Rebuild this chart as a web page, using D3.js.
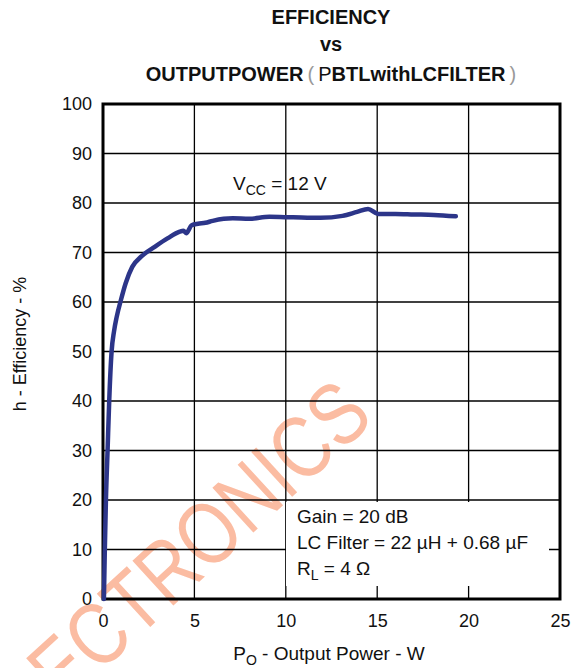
<!DOCTYPE html>
<html>
<head>
<meta charset="utf-8">
<script src="https://cdn.jsdelivr.net/npm/d3@7"></script>
<style>
  body { margin: 0; background: #fff; }
  svg { display: block; font-family: "Liberation Sans", Arial, sans-serif; }
</style>
</head>
<body>
<svg id="chart" width="578" height="668"></svg>
<script>
// values
const outputPower = [0.05, 0.1, 0.16, 0.25, 0.34, 0.47, 0.6, 0.75, 0.98, 1.24, 1.6, 2.1, 2.85, 3.55, 4.2, 4.4, 4.55, 4.85, 5.2, 5.6, 6.0, 6.6, 7.1, 8.0, 9.1, 10.4, 11.9, 13.1, 13.9, 14.5, 15.05, 16.0, 17.0, 18.1, 19.3];
const efficiency  = [0, 10, 20, 30, 40, 50, 54, 57, 60.4, 63.8, 67.1, 69.2, 71.2, 72.9, 74.2, 74.4, 73.9, 75.5, 75.8, 76.0, 76.4, 76.8, 76.9, 76.8, 77.2, 77.1, 77.0, 77.4, 78.2, 78.8, 77.8, 77.8, 77.7, 77.6, 77.3];
const xTicks = [0, 5, 10, 15, 20, 25];
const yTicks = [0, 10, 20, 30, 40, 50, 60, 70, 80, 90, 100];
const notes = ["Gain = 20 dB", "LC Filter = 22 \u00b5H + 0.68 \u00b5F"];

const svg = d3.select('#chart');
const x = d3.scaleLinear().domain([0, 25]).range([103, 560]);
const y = d3.scaleLinear().domain([0, 100]).range([599, 104]);

// title
const title = svg.append('g').attr('font-weight', 'bold').attr('font-size', 20)
  .attr('text-anchor', 'middle').attr('fill', '#111');
title.append('text').attr('x', 331).attr('y', 24).text('EFFICIENCY');
title.append('text').attr('x', 331).attr('y', 51).text('vs');
const t3 = title.append('text').attr('x', 331).attr('y', 81);
t3.append('tspan').text('OUTPUTPOWER');
t3.append('tspan').attr('font-weight', 'normal').attr('fill', '#999').text('\u2009(\u2009');
t3.append('tspan').attr('font-weight', 'normal').text('P');
t3.append('tspan').text('BTLwithLCFILTER');
t3.append('tspan').attr('font-weight', 'normal').attr('fill', '#999').text('\u2009)');

// watermark
svg.append('text')
  .attr('transform', 'translate(376,420) rotate(-42.5) scale(0.82,1)')
  .attr('text-anchor', 'end')
  .attr('font-size', 88)
  .attr('fill', '#fbbca2')
  .text('ELECTRONICS');

// grid
const grid = svg.append('g').attr('stroke', '#000').attr('stroke-width', 1.3);
grid.selectAll('.vx').data(xTicks.slice(1, -1)).enter().append('line')
  .attr('x1', d => x(d)).attr('x2', d => x(d))
  .attr('y1', y(0)).attr('y2', y(100));
grid.selectAll('.hy').data(yTicks.slice(1, -1)).enter().append('line')
  .attr('x1', x(0)).attr('x2', x(25))
  .attr('y1', d => y(d)).attr('y2', d => y(d));

// annotation box covers the grid
svg.append('rect').attr('x', 286).attr('y', 502).attr('width', 263).attr('height', 84).attr('fill', '#fff');
const ann = svg.append('g').attr('font-size', 19).attr('fill', '#111');
ann.selectAll('text.n').data(notes).enter().append('text')
  .attr('x', 297).attr('y', (d, i) => 523 + i * 26).text(d => d);
const rl = ann.append('text').attr('x', 297).attr('y', 575);
rl.append('tspan').text('R');
rl.append('tspan').attr('font-size', 14).attr('dy', 5).text('L');
rl.append('tspan').attr('dy', -5).text(' = 4 \u03a9');

// frame
svg.append('rect')
  .attr('x', x(0)).attr('y', y(100))
  .attr('width', x(25) - x(0)).attr('height', y(0) - y(100))
  .attr('fill', 'none').attr('stroke', '#000').attr('stroke-width', 3);

// axes labels
const xAxis = d3.axisBottom(x).tickValues(xTicks).tickSize(0).tickPadding(15);
svg.append('g').attr('transform', `translate(0,${y(0)})`).call(xAxis)
  .call(g => g.select('.domain').remove())
  .selectAll('text').attr('font-size', 18).attr('fill', '#111')
  .attr('font-family', '"Liberation Sans", Arial, sans-serif');
const yAxis = d3.axisLeft(y).tickValues(yTicks).tickSize(0).tickPadding(11);
svg.append('g').attr('transform', `translate(${x(0)},0)`).call(yAxis)
  .call(g => g.select('.domain').remove())
  .selectAll('text').attr('font-size', 18).attr('fill', '#111')
  .attr('font-family', '"Liberation Sans", Arial, sans-serif');

const xt = svg.append('text').attr('x', 329).attr('y', 660).attr('text-anchor', 'middle')
  .attr('font-size', 19).attr('fill', '#111');
xt.append('tspan').text('P');
xt.append('tspan').attr('font-size', 14).attr('dy', 5).text('O');
xt.append('tspan').attr('dy', -5).text(' - Output Power - W');

svg.append('text').attr('transform', 'translate(26,344) rotate(-90)')
  .attr('text-anchor', 'middle').attr('font-size', 18).attr('fill', '#111')
  .text('h - Efficiency - %');

// Vcc label
const vc = svg.append('text').attr('x', 233).attr('y', 190).attr('font-size', 19).attr('fill', '#111');
vc.append('tspan').text('V');
vc.append('tspan').attr('font-size', 14).attr('dy', 5).text('CC');
vc.append('tspan').attr('dy', -5).text(' = 12 V');

// curve
const pts = outputPower.map((p, i) => [p, efficiency[i]]);
const line = d3.line().x(d => x(d[0])).y(d => y(d[1])).curve(d3.curveMonotoneX);
svg.append('path').datum(pts)
  .attr('d', line)
  .attr('fill', 'none')
  .attr('stroke', '#2c3589')
  .attr('stroke-width', 4.5)
  .attr('stroke-linejoin', 'round')
  .attr('stroke-linecap', 'round');
</script>
</body>
</html>
